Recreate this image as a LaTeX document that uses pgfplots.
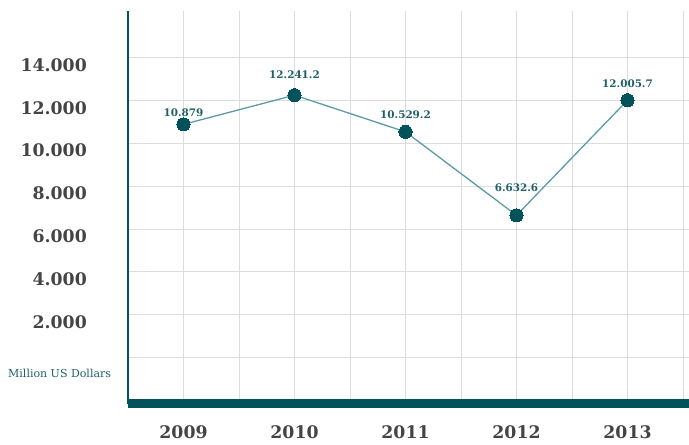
\documentclass[border=0pt]{standalone}
\usepackage{pgfplots}
\pgfplotsset{compat=1.18}
\usepackage{fontspec}
\setmainfont{DejaVu Serif}
\definecolor{axisteal}{HTML}{02525C}
\definecolor{lineteal}{HTML}{5B9AA6}
\definecolor{labteal}{HTML}{1F5F6B}
\definecolor{tickgray}{HTML}{444444}
\definecolor{gridgray}{HTML}{DDDDDD}
\begin{document}
\begin{tikzpicture}[lab/.style={font=\fontsize{10.4}{12}\selectfont\bfseries, text=labteal, anchor=center, inner sep=0pt}]
\begin{axis}[
  at={(0,0)}, anchor=south west,
  scale only axis, width=561pt, height=392.5pt,
  xmin=2008.5, xmax=2013.554, ymin=-2147, ymax=16169,
  scaled y ticks=false,
  axis x line=bottom, axis y line=left,
  x axis line style={-, line width=9pt, draw=axisteal},
  y axis line style={-, line width=2pt, draw=axisteal},
  xtick={2009,2010,2011,2012,2013}, xticklabels={2009,2010,2011,2012,2013},
  minor xtick={2009.5,2010.5,2011.5,2012.5,2013.5},
  ytick={0,2000,4000,6000,8000,10000,12000,14000},
  yticklabels={,2.000,4.000,6.000,8.000,10.000,12.000,14.000},
  major tick length=0pt, minor tick length=0pt,
  grid=both,
  major grid style={gridgray, line width=0.8pt},
  minor grid style={gridgray, line width=0.8pt},
  ticklabel style={font=\fontsize{17.3}{19}\selectfont\bfseries, text=tickgray, inner sep=0pt},
  yticklabel style={anchor=east, xshift=-41pt, yshift=-7.5pt},
  xticklabel style={anchor=center, yshift=-28.5pt},
  clip=false,
]
\addplot[color=lineteal, line width=1.3pt, mark=*, mark size=6.6pt,
  mark options={fill=axisteal, draw=axisteal, line width=0pt}]
table{
x y
2009 10879
2010 12241.2
2011 10529.2
2012 6632.6
2013 12005.7
};
\node[lab, yshift=12pt] at (axis cs:2009,10879) {10.879};
\node[lab, yshift=20pt] at (axis cs:2010,12241.2) {12.241.2};
\node[lab, yshift=17.6pt] at (axis cs:2011,10529.2) {10.529.2};
\node[lab, yshift=27.7pt] at (axis cs:2012,6632.6) {6.632.6};
\node[lab, yshift=17pt] at (axis cs:2013,12005.7) {12.005.7};
\end{axis}
\node[anchor=west, font=\fontsize{11}{13}\selectfont, text=labteal, inner sep=0pt] at (-120pt,30.2pt) {Million US Dollars};
\pgfresetboundingbox
\useasboundingbox (-128pt,-41.5pt) rectangle (561pt,403.5pt);
\end{tikzpicture}
\end{document}
